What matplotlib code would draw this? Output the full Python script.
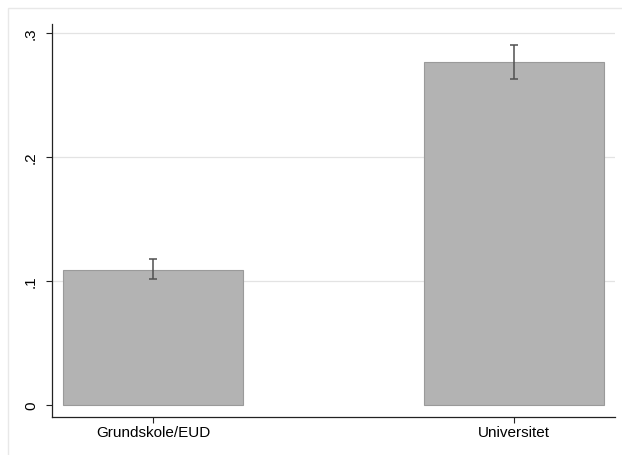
import matplotlib.pyplot as plt
from matplotlib.patches import Rectangle

# Data
categories = ["Grundskole/EUD", "Universitet"]
means = [0.109, 0.2764]
ci_low = [0.1013, 0.2627]
ci_high = [0.1177, 0.2906]

yticks = [0, 0.1, 0.2, 0.3]
ytick_labels = ["0", ".1", ".2", ".3"]
grid_levels = [0.1, 0.2, 0.3]

plt.rcParams['font.family'] = ['Liberation Sans', 'DejaVu Sans']

W, H = 622, 456
fig = plt.figure(figsize=(W / 100, H / 100), dpi=100)

# light outer frame, Stata-style
fig.patches.append(Rectangle((8 / W, -0.01), 1.02, (H - 9) / H + 0.01,
                             transform=fig.transFigure, fill=False,
                             edgecolor='#e8e8e8', linewidth=1))

ax = fig.add_axes([52 / W, (H - 417.7) / H, (615 - 52) / W, (417.7 - 25) / H])

x = [1, 2]
ax.bar(x, means, width=0.5, color='#b3b3b3', edgecolor='#9a9a9a',
       linewidth=0.8, zorder=2)

lower = [m - l for m, l in zip(means, ci_low)]
upper = [h - m for m, h in zip(means, ci_high)]
ax.errorbar(x, means, yerr=[lower, upper], fmt='none', ecolor='#505050',
            elinewidth=1.1, capsize=3, capthick=1.1, zorder=3)

for g in grid_levels:
    ax.axhline(g, color='#e3e3e3', linewidth=0.9, zorder=0)

ax.set_xlim(0.72, 2.28)
ax.set_ylim(-0.0094, 0.3073)

ax.set_yticks(yticks)
ax.set_yticklabels(ytick_labels, rotation=90, va='center', fontsize=11)
ax.set_xticks(x)
ax.set_xticklabels(categories, fontsize=11)

ax.tick_params(length=4, width=0.8, color='#222222')
ax.tick_params(axis='x', pad=2)
ax.tick_params(axis='y', pad=6)

for s in ['top', 'right']:
    ax.spines[s].set_visible(False)
for s in ['left', 'bottom']:
    ax.spines[s].set_color('#222222')
    ax.spines[s].set_linewidth(0.9)

fig.savefig("out.png", dpi=100)
